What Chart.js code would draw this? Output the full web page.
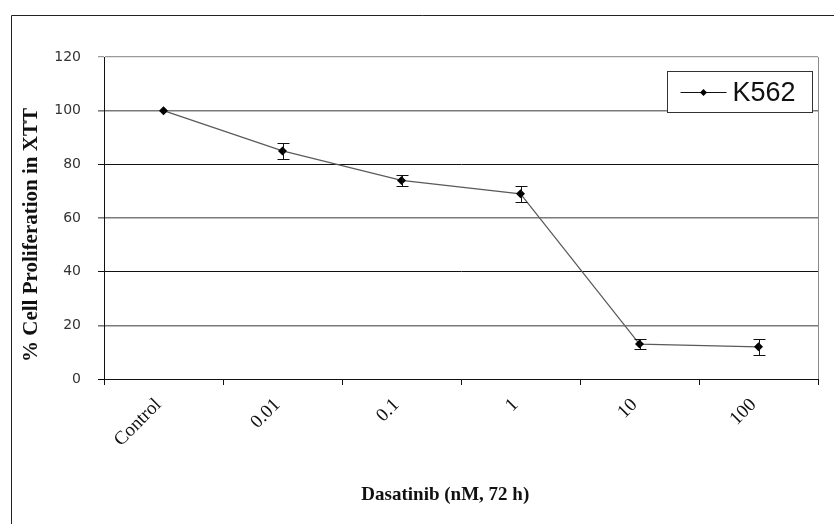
<!DOCTYPE html>
<html>
<head>
<meta charset="utf-8">
<script src="https://cdn.jsdelivr.net/npm/chart.js@4"></script>
<style>
html,body{margin:0;padding:0;background:#fff;}
#wrap{width:834px;height:524px;position:relative;}
</style>
</head>
<body>
<div id="wrap"><canvas id="c" width="834" height="524"></canvas></div>
<script>
const categories = ["Control", "0.01", "0.1", "1", "10", "100"];
const seriesLabel = "K562";
const proliferation = [100, 85, 74, 69, 13, 12];
const errorSD = [0, 3, 2, 3, 2, 3];
const yTicks = [0, 20, 40, 60, 80, 100, 120];
const xTitle = "Dasatinib (nM, 72 h)";
const yTitle = "% Cell Proliferation in XTT";

const frame = {
  id: 'frame',
  beforeDraw(chart) {
    const ctx = chart.ctx;
    ctx.save();
    ctx.fillStyle = '#fff';
    ctx.fillRect(0, 0, chart.width, chart.height);
    ctx.strokeStyle = '#222';
    ctx.lineWidth = 1;
    ctx.beginPath();
    ctx.moveTo(11.5, chart.height);
    ctx.lineTo(11.5, 15.5);
    ctx.lineTo(chart.width, 15.5);
    ctx.stroke();
    ctx.restore();
  },
  beforeDatasetsDraw(chart) {
    const a = chart.chartArea, ctx = chart.ctx;
    ctx.save();
    ctx.strokeStyle = '#8a8a8a';
    ctx.lineWidth = 1;
    ctx.beginPath();
    ctx.moveTo(Math.round(a.right) + 0.5, a.bottom);
    ctx.lineTo(Math.round(a.right) + 0.5, a.top);
    ctx.stroke();
    ctx.restore();
  },
  afterDraw(chart) {
    const a = chart.chartArea, ctx = chart.ctx;
    ctx.save();
    ctx.fillStyle = '#111';
    ctx.textAlign = 'center';
    ctx.textBaseline = 'middle';
    ctx.font = 'bold 19px "Liberation Serif", "Times New Roman", serif';
    ctx.fillText(xTitle, a.left + (a.right - a.left) * 0.478, 495);
    ctx.translate(32, (a.top + a.bottom) / 2 + 17);
    ctx.rotate(-Math.PI / 2);
    ctx.font = 'bold 21px "Liberation Serif", "Times New Roman", serif';
    ctx.fillText(yTitle, 0, 0);
    ctx.restore();
  }
};

const errorBars = {
  id: 'errorBars',
  afterDatasetsDraw(chart) {
    const ctx = chart.ctx, y = chart.scales.y;
    const meta = chart.getDatasetMeta(0);
    ctx.save();
    ctx.strokeStyle = '#111';
    ctx.lineWidth = 1;
    meta.data.forEach((pt, i) => {
      const e = errorSD[i];
      if (!e) return;
      const x = Math.round(pt.x) + 0.5;
      const yt = Math.round(y.getPixelForValue(proliferation[i] + e)) + 0.5;
      const yb = Math.round(y.getPixelForValue(proliferation[i] - e)) + 0.5;
      ctx.beginPath();
      ctx.moveTo(x, yt); ctx.lineTo(x, yb);
      ctx.moveTo(x - 6, yt); ctx.lineTo(x + 6, yt);
      ctx.moveTo(x - 6, yb); ctx.lineTo(x + 6, yb);
      ctx.stroke();
    });
    ctx.restore();
  }
};

const legendBox = {
  id: 'legendBox',
  afterDraw(chart) {
    const a = chart.chartArea, ctx = chart.ctx;
    const bx = Math.round(a.right) - 151 + 0.5, by = Math.round(a.top) + 14 + 0.5;
    const bw = 145, bh = 41;
    ctx.save();
    ctx.fillStyle = '#fff';
    ctx.fillRect(bx, by, bw, bh);
    ctx.strokeStyle = '#333';
    ctx.lineWidth = 1;
    ctx.strokeRect(bx, by, bw, bh);
    const cy = Math.round(by + bh / 2) + 0.5;
    ctx.strokeStyle = '#111';
    ctx.beginPath();
    ctx.moveTo(bx + 13, cy); ctx.lineTo(bx + 59, cy);
    ctx.stroke();
    ctx.fillStyle = '#000';
    ctx.beginPath();
    const mx = bx + 36;
    ctx.moveTo(mx, cy - 3.5); ctx.lineTo(mx + 3.5, cy); ctx.lineTo(mx, cy + 3.5); ctx.lineTo(mx - 3.5, cy);
    ctx.closePath(); ctx.fill();
    ctx.font = '27px "Liberation Sans", Arial, sans-serif';
    ctx.textBaseline = 'middle';
    ctx.fillStyle = '#111';
    ctx.fillText(chart.data.datasets[0].label, bx + 65, cy + 1);
    ctx.restore();
  }
};

const gridColors = ['#000', '#7a7a7a', '#111', '#7a7a7a', '#111', '#7a7a7a', '#9a9a9a'];
const gridWidths = [1, 1.6, 1, 1.6, 1, 1.6, 1.2];

new Chart(document.getElementById('c'), {
  type: 'line',
  data: {
    labels: categories,
    datasets: [{
      label: seriesLabel,
      data: proliferation,
      borderColor: '#5a5a5a',
      borderWidth: 1.2,
      pointStyle: 'rectRot',
      pointRadius: 4.5,
      pointBackgroundColor: '#000',
      pointBorderColor: '#000',
      pointBorderWidth: 0,
      tension: 0,
      fill: false
    }]
  },
  options: {
    responsive: false,
    animation: false,
    events: [],
    layout: { padding: { left: 11, top: 57, right: 16, bottom: 0 } },
    plugins: { legend: { display: false }, tooltip: { enabled: false } },
    scales: {
      x: {
        type: 'category',
        offset: true,
        afterFit(s) { s.height = 145; },
        grid: {
          offset: true,
          drawOnChartArea: false,
          drawTicks: true,
          tickLength: 6,
          color: '#111',
          lineWidth: 1
        },
        border: { display: true, color: '#111', width: 1 },
        ticks: {
          autoSkip: false,
          minRotation: 45,
          maxRotation: 45,
          padding: 9,
          labelOffset: -5,
          color: '#111',
          font: { family: '"Liberation Serif", "Times New Roman", serif', size: 19 }
        },
        title: { display: false }
      },
      y: {
        min: 0,
        max: 120,
        afterFit(s) { s.width = 93; },
        afterBuildTicks(s) { s.ticks = yTicks.map(v => ({ value: v })); },
        grid: {
          drawTicks: true,
          tickLength: 6,
          color: ctx => gridColors[ctx.index] || '#111',
          lineWidth: ctx => gridWidths[ctx.index] || 1
        },
        border: { display: true, color: '#111', width: 1 },
        ticks: {
          padding: 17,
          color: '#333',
          font: { family: '"DejaVu Sans", Verdana, sans-serif', size: 14 }
        },
        title: { display: false }
      }
    }
  },
  plugins: [frame, errorBars, legendBox]
});
</script>
</body>
</html>
